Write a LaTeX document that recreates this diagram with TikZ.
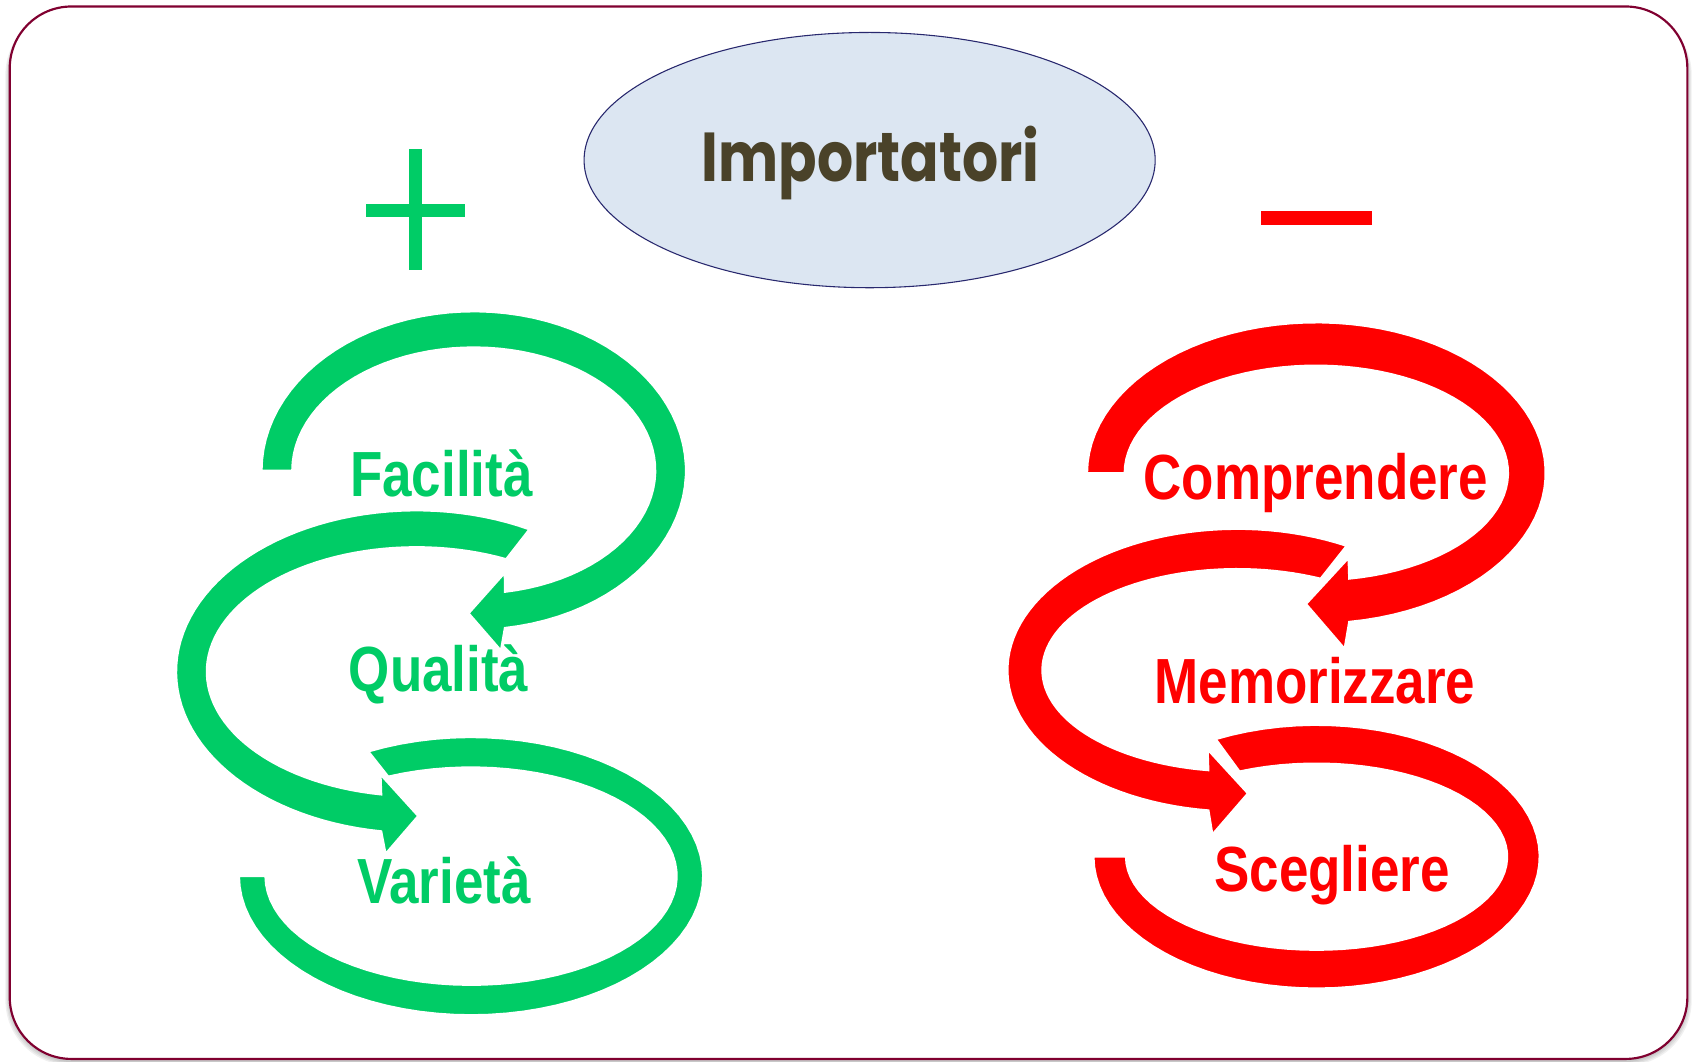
\documentclass[tikz,border=0pt]{standalone}
\usepackage{fontspec}
\usetikzlibrary{shapes.geometric}
\newfontfamily\labelfont{Liberation Sans}
\newfontfamily\titlefont{Poppins}

\definecolor{plusgreen}{RGB}{0,204,102}
\definecolor{minusred}{RGB}{255,0,0}
\definecolor{framered}{RGB}{128,0,48}
\definecolor{ovalfill}{RGB}{220,230,242}
\definecolor{ovaldraw}{RGB}{40,40,110}
\definecolor{titlebrown}{RGB}{74,66,41}

\newcommand{\narrowtext}[1]{\scalebox{0.83}[1]{#1}}

\begin{document}
\begin{tikzpicture}[x=0.5pt,y=0.5pt,yscale=-1,
    stagelabel/.style={anchor=base, inner sep=0pt, font=\labelfont\bfseries\fontsize{29.5}{32}\selectfont},
    band/.style={draw=white, line width=0.8pt}]
		\useasboundingbox (0,0) rectangle (1568,981);

		% Soft shadow under the card
		\foreach \k in {1,...,4}
			\fill[black, opacity=0.06, rounded corners=30pt] ({9-\k},9) rectangle ({1560+\k},{981+\k});

		% The card
		\draw[framered, fill=white, line width=1pt, rounded corners=28.5pt] (9,6) rectangle (1560,979);

		% The oval and its title
		\node[ellipse, draw=ovaldraw, fill=ovalfill, line width=0.5pt, minimum width=264pt, minimum height=118pt, inner sep=0pt] (oval) at (804,148) {};
		\node[anchor=base, inner sep=0pt, text=titlebrown, font=\titlefont\bfseries\fontsize{32}{36}\selectfont] (title) at (805,168) {\scalebox{0.82}[1]{Importatori}};

		% The plus sign
		\fill[plusgreen] (338,189) rectangle (430,201);
		\fill[plusgreen] (378,138) rectangle (390,250);

		% The minus sign
		\fill[minusred] (1166,195) rectangle (1268,208);

		% Green loop at the bottom (no head)
		\filldraw[plusgreen, band] plot[domain=-116.2:180, samples=70, variable=\t] ({435.5+214.4*cos(\t)},{810+128.4*sin(\t)})
			-- plot[domain=180:-113.7, samples=70, variable=\t] ({435.5+190.3*cos(\t)},{810+100.7*sin(\t)}) -- cycle;

		% Green loop in the middle, head pointing right
		\filldraw[plusgreen, band] plot[domain=-62:-261.6, samples=70, variable=\t] ({385+222*cos(\t)},{621+149*sin(\t)})
			-- (356.6,789) -- (386.4,754.4) -- (352,716.5)
			-- plot[domain=-260.4:-64.7, samples=70, variable=\t] ({385+194*cos(\t)},{621+115.3*sin(\t)}) -- cycle;

		% Green loop at the top, head pointing left
		\filldraw[plusgreen, band] plot[domain=180:441.6, samples=70, variable=\t] ({438+196*cos(\t)},{435+147*sin(\t)})
			-- (463,601) -- (433.5,567) -- (466.5,530)
			-- plot[domain=440.2:180, samples=70, variable=\t] ({438+168*cos(\t)},{435+114*sin(\t)}) -- cycle;

		% Red loop at the bottom (no head)
		\filldraw[minusred, band] plot[domain=-116.8:180, samples=70, variable=\t] ({1217.2+206.1*cos(\t)},{792+121.7*sin(\t)})
			-- plot[domain=180:-113.8, samples=70, variable=\t] ({1217.2+176.4*cos(\t)},{792+86.3*sin(\t)}) -- cycle;

		% Red loop in the middle, head pointing right
		\filldraw[minusred, band] plot[domain=-61.7:-262.8, samples=70, variable=\t] ({1144+212.4*cos(\t)},{619.6+130.5*sin(\t)})
			-- (1121,771.1) -- (1153.5,733.5) -- (1116.7,693.4)
			-- plot[domain=-261.5:-64.8, samples=70, variable=\t] ({1144+180.5*cos(\t)},{619.6+93.7*sin(\t)}) -- cycle;

		% Red loop at the top, head pointing left
		\filldraw[minusred, band] plot[domain=180:441.8, samples=70, variable=\t] ({1217+211.8*cos(\t)},{437.2+139*sin(\t)})
			-- (1243,599.4) -- (1207.7,558.4) -- (1246.6,516.2)
			-- plot[domain=440.2:180, samples=70, variable=\t] ({1217+177.4*cos(\t)},{437.2+99.4*sin(\t)}) -- cycle;

		% Green words
		\node[stagelabel, text=plusgreen] (ease) at (408,459) {\narrowtext{Facilità}};
		\node[stagelabel, text=plusgreen] (quality) at (405.5,639.5) {\narrowtext{Qualità}};
		\node[stagelabel, text=plusgreen] (variety) at (410.4,835) {\narrowtext{Varietà}};

		% Red words
		\node[stagelabel, text=minusred] (understand) at (1216.4,461.6) {\narrowtext{Comprendere}};
		\node[stagelabel, text=minusred] (memorise) at (1215.7,650.3) {\narrowtext{Memorizzare}};
		\node[stagelabel, text=minusred] (choose) at (1231.5,824.4) {\narrowtext{Scegliere}};
	\end{tikzpicture}
\end{document}
